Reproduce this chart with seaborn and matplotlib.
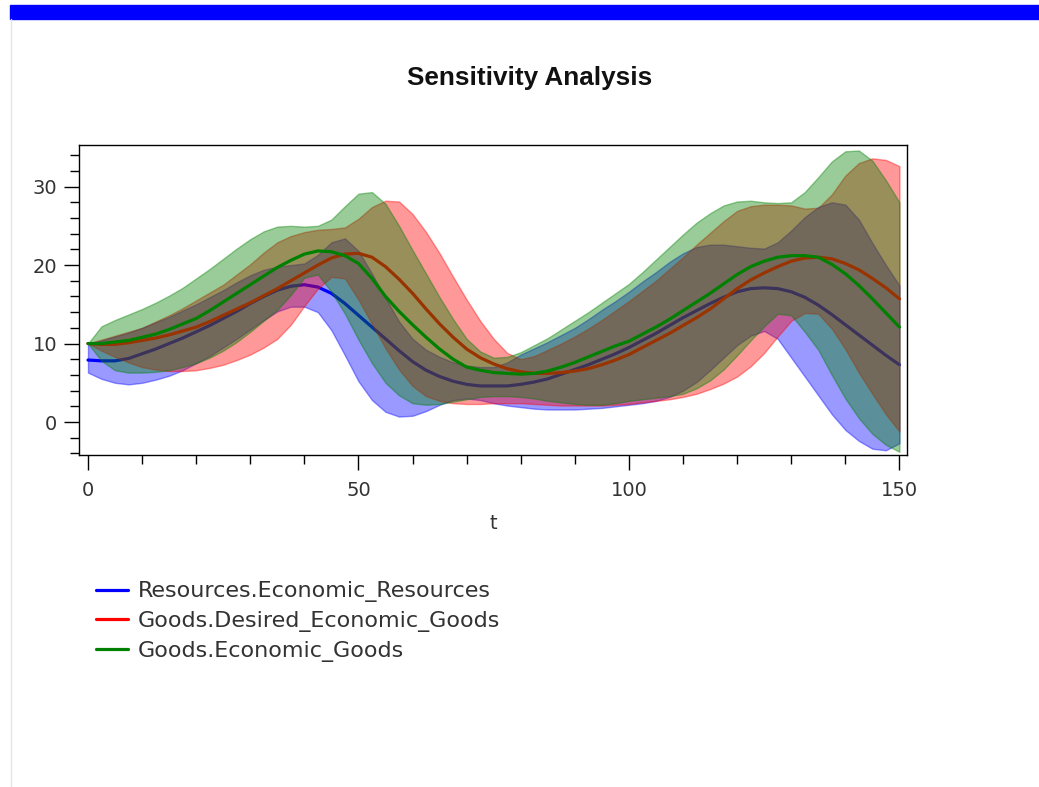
import matplotlib
matplotlib.use("Agg")
import matplotlib.pyplot as plt
import seaborn as sns
from matplotlib.lines import Line2D
from matplotlib.patches import Rectangle
from matplotlib.ticker import MultipleLocator

# 시간축과 세 변수의 평균 / 하한 / 상한
t = [0, 2.5, 5, 7.5, 10, 12.5, 15, 17.5, 20, 22.5, 25, 27.5, 30, 32.5, 35, 37.5,
     40, 42.5, 45, 47.5, 50, 52.5, 55, 57.5, 60, 62.5, 65, 67.5, 70, 72.5, 75,
     77.5, 80, 82.5, 85, 87.5, 90, 92.5, 95, 97.5, 100, 102.5, 105, 107.5, 110,
     112.5, 115, 117.5, 120, 122.5, 125, 127.5, 130, 132.5, 135, 137.5, 140,
     142.5, 145, 147.5, 150]

resources_mean = [7.9, 7.8, 7.8, 8.1, 8.7, 9.3, 10.0, 10.7, 11.5, 12.3, 13.2, 14.1,
                  15.1, 16.0, 16.8, 17.3, 17.5, 17.2, 16.4, 15.1, 13.6, 12.1, 10.6,
                  9.1, 7.7, 6.6, 5.8, 5.2, 4.8, 4.6, 4.6, 4.6, 4.8, 5.1, 5.5, 6.1,
                  6.7, 7.3, 8.0, 8.7, 9.5, 10.4, 11.3, 12.3, 13.3, 14.2, 15.1, 15.9,
                  16.6, 17.0, 17.1, 17.0, 16.6, 15.9, 14.9, 13.7, 12.4, 11.1, 9.8,
                  8.5, 7.3]
resources_low = [6.3, 5.5, 5.0, 4.8, 5.0, 5.4, 5.9, 6.6, 7.5, 8.4, 9.5, 10.6, 11.8,
                 13.0, 14.1, 14.7, 14.7, 14.0, 11.7, 8.5, 5.2, 2.8, 1.3, 0.7, 0.8,
                 1.4, 2.2, 2.8, 3.0, 2.8, 2.4, 2.1, 1.9, 1.7, 1.6, 1.6, 1.6, 1.7,
                 1.8, 2.0, 2.2, 2.4, 2.7, 3.2, 4.0, 5.1, 6.6, 8.2, 9.8, 11.0, 11.6,
                 10.6, 8.2, 5.8, 3.4, 1.0, -1.0, -2.4, -3.4, -3.6, -2.7]
resources_high = [10.0, 10.4, 10.9, 11.4, 12.0, 12.7, 13.4, 14.2, 15.0, 15.9, 16.8,
                  17.8, 18.7, 19.4, 19.8, 20.0, 20.2, 21.3, 22.9, 23.4, 21.8, 18.9,
                  15.8, 12.8, 10.6, 9.2, 8.3, 7.6, 7.2, 7.0, 7.0, 7.6, 8.6, 9.4,
                  10.2, 11.1, 12.0, 13.1, 14.3, 15.4, 16.6, 17.9, 19.1, 20.4, 21.5,
                  22.3, 22.6, 22.6, 22.4, 22.2, 22.1, 22.9, 24.4, 26.1, 27.4, 28.0,
                  27.7, 25.8, 22.8, 20.0, 17.4]

desired_mean = [10.0, 9.9, 9.9, 10.1, 10.4, 10.7, 11.1, 11.6, 12.1, 12.8, 13.6, 14.4,
                15.2, 16.1, 17.0, 18.0, 19.0, 20.0, 20.9, 21.4, 21.5, 21.0, 19.8,
                18.2, 16.4, 14.4, 12.5, 10.8, 9.3, 8.2, 7.4, 6.8, 6.4, 6.2, 6.2,
                6.3, 6.5, 6.8, 7.3, 7.9, 8.6, 9.5, 10.4, 11.3, 12.3, 13.3, 14.4,
                15.7, 17.0, 18.1, 19.0, 19.8, 20.5, 20.9, 21.0, 20.8, 20.2, 19.4,
                18.3, 17.1, 15.7]
desired_low = [10.0, 9.1, 8.3, 7.6, 7.0, 6.7, 6.5, 6.5, 6.6, 6.9, 7.3, 7.9, 8.6,
               9.5, 10.6, 12.4, 14.8, 17.0, 18.5, 18.3, 15.6, 12.5, 9.4, 6.7, 4.6,
               3.3, 2.7, 2.4, 2.3, 2.3, 2.4, 2.4, 2.4, 2.3, 2.2, 2.1, 2.1, 2.1,
               2.1, 2.2, 2.3, 2.5, 2.7, 2.9, 3.2, 3.6, 4.2, 4.9, 5.8, 7.1, 8.8,
               10.9, 12.9, 13.9, 13.8, 11.9, 9.3, 6.3, 3.6, 1.0, -1.2]
desired_high = [10.0, 10.5, 11.0, 11.5, 12.0, 12.8, 13.6, 14.5, 15.5, 16.5, 17.5,
                18.8, 20.1, 21.6, 22.9, 23.7, 24.2, 24.5, 24.6, 24.8, 25.9, 27.4,
                28.2, 28.1, 26.5, 24.2, 21.5, 18.5, 15.6, 12.9, 10.6, 8.8, 8.0,
                8.4, 9.2, 10.0, 10.9, 11.9, 13.0, 14.2, 15.4, 16.7, 18.0, 19.5,
                21.0, 22.6, 24.1, 25.6, 26.9, 27.5, 27.7, 27.7, 27.6, 27.2, 27.3,
                29.0, 31.4, 33.0, 33.6, 33.4, 32.6]

goods_mean = [10.0, 10.0, 10.2, 10.4, 10.8, 11.2, 11.8, 12.5, 13.2, 14.2, 15.3, 16.4,
              17.5, 18.6, 19.7, 20.6, 21.4, 21.8, 21.7, 21.2, 20.2, 18.3, 16.0,
              14.1, 12.4, 10.8, 9.3, 8.0, 7.0, 6.6, 6.3, 6.2, 6.1, 6.2, 6.5, 7.0,
              7.6, 8.3, 9.0, 9.7, 10.3, 11.2, 12.1, 13.1, 14.2, 15.3, 16.4, 17.6,
              18.8, 19.8, 20.5, 21.0, 21.2, 21.2, 21.0, 20.1, 18.9, 17.4, 15.7,
              13.9, 12.1]
goods_low = [10.0, 7.8, 6.6, 6.3, 6.3, 6.4, 6.6, 7.0, 7.5, 8.2, 9.1, 10.2, 11.5,
             12.9, 14.3, 16.2, 18.4, 18.8, 16.6, 13.8, 10.5, 7.5, 5.0, 3.4, 2.4,
             2.2, 2.3, 2.6, 2.9, 3.2, 3.3, 3.3, 3.2, 3.0, 2.7, 2.5, 2.3, 2.2, 2.2,
             2.4, 2.7, 2.9, 3.1, 3.3, 3.6, 4.3, 5.3, 6.7, 8.5, 10.4, 12.2, 13.8,
             13.6, 11.5, 9.2, 6.0, 3.0, 0.5, -1.5, -2.9, -3.8]
goods_high = [10.0, 12.2, 13.0, 13.7, 14.4, 15.2, 16.1, 17.1, 18.3, 19.5, 20.8,
              22.1, 23.3, 24.3, 24.9, 25.0, 24.9, 25.0, 25.8, 27.5, 29.1, 29.3,
              27.8, 25.0, 21.9, 18.9, 15.9, 13.1, 10.6, 9.0, 8.2, 8.3, 8.9, 9.8,
              10.7, 11.8, 12.9, 14.0, 15.2, 16.4, 17.6, 19.1, 20.7, 22.3, 23.9,
              25.4, 26.6, 27.6, 28.1, 28.2, 28.0, 27.9, 28.0, 29.3, 31.2, 33.2,
              34.5, 34.6, 33.3, 30.8, 28.0]

labels = ["Resources.Economic_Resources", "Goods.Desired_Economic_Goods",
          "Goods.Economic_Goods"]
colors = ["#0000ff", "#ff0000", "#008000"]

sns.set_theme(style="ticks")
plt.rcParams["font.family"] = ["DejaVu Sans"]

W, H = 1039, 787
fig = plt.figure(figsize=(W / 100, H / 100), dpi=100)
fig.patch.set_facecolor("white")

# 상단 파란 띠와 왼쪽 옅은 테두리
fig.patches.append(Rectangle((10 / W, 1 - 19 / H), 1 - 10 / W, 14 / H,
                             transform=fig.transFigure, color="#0000ff", zorder=0))
fig.add_artist(Line2D([10.5 / W, 10.5 / W], [0, 1 - 19 / H],
                      color="#dde6f0", lw=1))

ax = fig.add_axes([79 / W, 1 - 455 / H, (907 - 79) / W, (455 - 145) / H])
ax.set_facecolor("white")

bands = [
    (resources_mean, resources_low, resources_high),
    (desired_mean, desired_low, desired_high),
    (goods_mean, goods_low, goods_high),
]
# 띠 → 평균선 순서로 겹쳐 그린다 (뒤 변수의 띠가 앞 변수의 선을 덮음)
for i, ((mean, low, high), color) in enumerate(zip(bands, colors)):
    ax.fill_between(t, low, high, color=color, alpha=0.4, lw=1, zorder=2 + 2 * i)
    sns.lineplot(x=t, y=mean, color=color, lw=2.3, ax=ax, legend=False,
                 zorder=3 + 2 * i)

ax.set_xlim(-1.66, 151.4)
ax.set_ylim(-4.2, 35.3)
ax.xaxis.set_major_locator(MultipleLocator(50))
ax.xaxis.set_minor_locator(MultipleLocator(10))
ax.yaxis.set_major_locator(MultipleLocator(10))
ax.yaxis.set_minor_locator(MultipleLocator(2))
ax.tick_params(which="major", direction="out", length=10.5, width=1,
               color="black", labelsize=14, labelcolor="#333333")
ax.tick_params(which="minor", direction="out", length=6.5, width=1,
               color="black")
ax.tick_params(axis="x", which="major", pad=8)
ax.tick_params(axis="y", which="major", pad=5)
for spine in ax.spines.values():
    spine.set_visible(True)
    spine.set_color("black")
    spine.set_linewidth(1)
    spine.set_zorder(10)

ax.set_xlabel("t", fontsize=14, color="#333333", labelpad=10.5)
ax.set_ylabel("")
ax.grid(False)

fig.text(530 / W, 1 - 85 / H, "Sensitivity Analysis", ha="center", va="baseline",
         fontsize=18.8, fontweight="bold",
         family=["Liberation Sans", "DejaVu Sans"], color="#111111")

handles = [Line2D([0], [0], color=c, lw=2.3) for c in colors]
fig.legend(handles, labels, loc="upper left",
           bbox_to_anchor=(96 / W, 1 - 581.5 / H), frameon=False,
           fontsize=16, handlelength=1.45, handletextpad=0.42,
           labelspacing=0.39, borderpad=0, borderaxespad=0,
           labelcolor="#333333")

fig.savefig("out.png", dpi=100)
